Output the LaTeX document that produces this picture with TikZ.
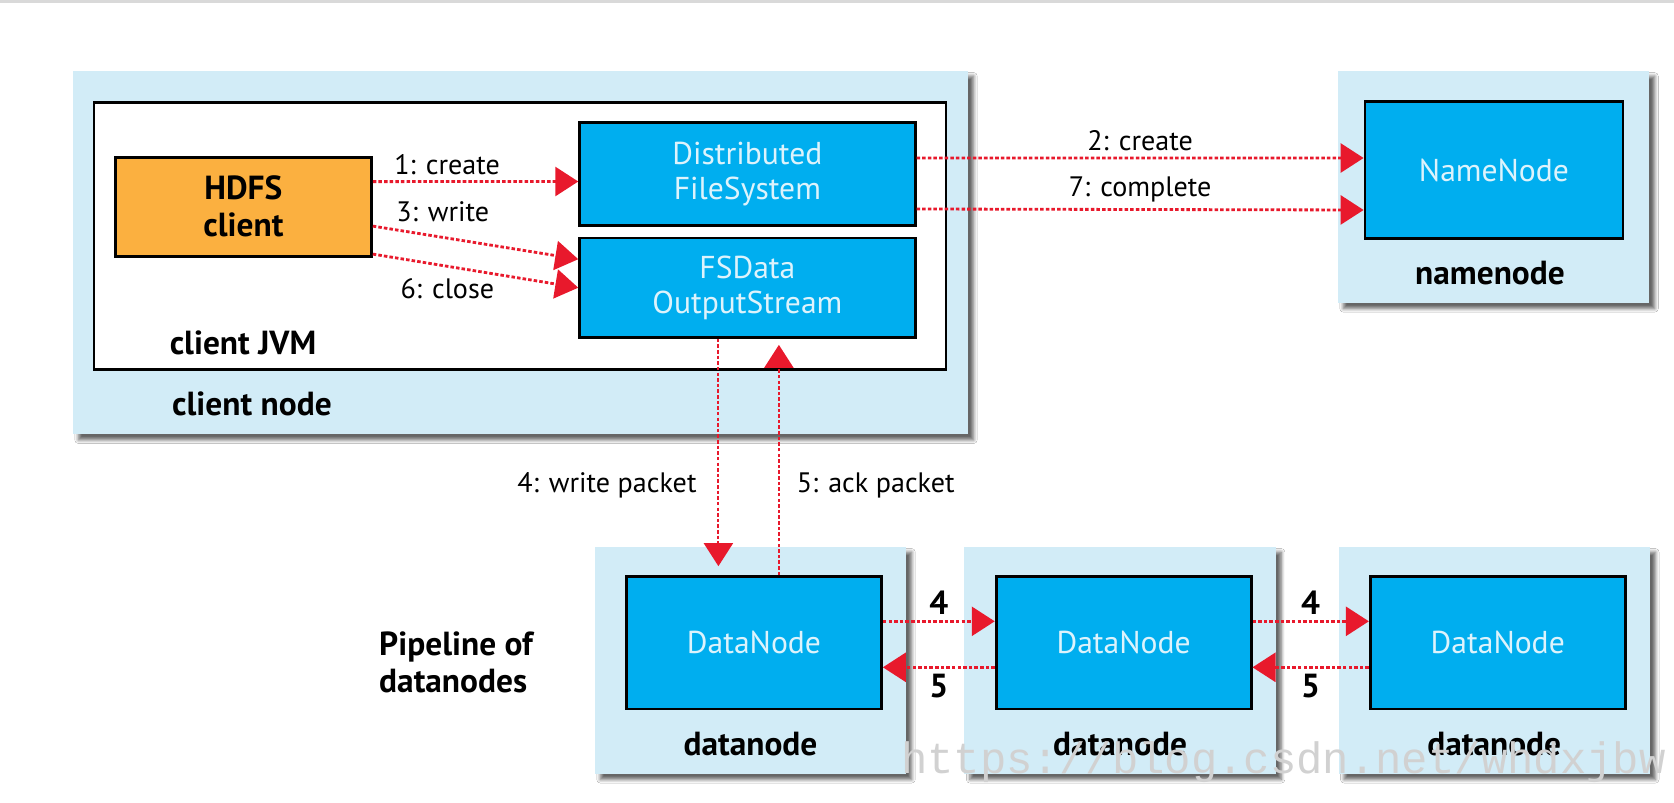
\documentclass[tikz,border=0pt]{standalone}
\usepackage{fontspec}
\setmainfont{PT Sans}
\newfontfamily\markfont{Liberation Mono}
\usetikzlibrary{arrows.meta,positioning,shadows.blur}

\definecolor{hostblue}{HTML}{D2ECF7}
\definecolor{procblue}{HTML}{00AEEF}
\definecolor{clientorange}{HTML}{FBB040}
\definecolor{msgred}{HTML}{E8192C}
\definecolor{proctext}{HTML}{DDF3FC}

\begin{document}
\begin{tikzpicture}[x=0.02cm,y=-0.02cm
	,>={Triangle[length=0.46cm,width=0.58cm]}
	,font=\fontsize{16}{19}\selectfont
	,inner sep=0.333em]
  \tikzstyle{host}=[fill=hostblue,blur shadow={shadow xshift=1.1mm,shadow yshift=-1.1mm,shadow blur steps=6,shadow opacity=60}]
  \tikzstyle{proc}=[draw=black,line width=1.6pt,fill=procblue,text=proctext,align=center,font=\fontsize{18}{20}\selectfont]
  \tikzstyle{lbl}=[font=\bfseries\fontsize{19}{21}\selectfont]
  \tikzstyle{msg}=[->,color=msgred,dash pattern=on 2pt off 1.2pt,line width=1.6pt]

  \fill[white] (0,0) rectangle (1674,802);
  \useasboundingbox (0,0) rectangle (1674,802);
  \fill[black!15] (0,0) rectangle (1674,3);

  % client node
  \node[host,minimum width=17.91cm,minimum height=7.28cm] (cnode) at (520.5,252.5) {};
  \node[draw=black,line width=1.6pt,fill=white,minimum width=17.04cm,minimum height=5.34cm] (jvm) at (520,236) {};
  \node[draw=black,line width=1.6pt,fill=clientorange,lbl,align=center
	,minimum width=5.12cm,minimum height=1.98cm] (hdfs) at (243.4,206.6) {HDFS\\client};
  \node[proc,minimum width=6.71cm,minimum height=2.05cm] (dfs) at (747.4,174) {Distributed\\FileSystem};
  \node[proc,minimum width=6.71cm,minimum height=1.99cm] (fsd) at (747.4,287.7) {FSData\\OutputStream};
  \node[lbl] (jvmlbl) at (243,342.7) {client JVM};
  \node[lbl] (cnodelbl) at (252,403.5) {client node};

  % namenode
  \node[host,minimum width=6.23cm,minimum height=4.65cm] (nnhost) at (1493.5,186.9) {};
  \node[proc,minimum width=5.16cm,minimum height=2.73cm] (nn) at (1494,170) {NameNode};
  \node[lbl] (nnlbl) at (1490,273.3) {namenode};

  % datanodes
  \node[host,minimum width=6.23cm,minimum height=4.55cm] (dnh1) at (750.5,660.3) {};
  \node[host,minimum width=6.23cm,minimum height=4.55cm,right=1.15cm of dnh1] (dnh2) {};
  \node[host,minimum width=6.23cm,minimum height=4.55cm,right=1.24cm of dnh2] (dnh3) {};
  \foreach \i in {1,2,3}{
    \node[proc,minimum width=5.1cm,minimum height=2.65cm] (dn\i) at ([xshift=0.07cm,yshift=0.35cm]dnh\i.center) {DataNode};
    \node[lbl] (dnlbl\i) at ([yshift=0.6cm]dnh\i.south) {datanode};
  }
  \node[lbl,align=left,anchor=west] (pipe) at (373,662) {Pipeline of\\datanodes};

  \path[msg]
	([yshift=0.5cm]hdfs.east) edge node[pos=0.07,anchor=south west,text=black] {1: create} ([yshift=-0.15cm]dfs.west)
	([yshift=-0.39cm]hdfs.east) edge node[pos=0.08,anchor=south west,text=black] {3: write} ([yshift=0.57cm]fsd.west)
	([yshift=-0.95cm]hdfs.east) edge node[pos=0.1,anchor=north west,yshift=-0.27cm,text=black] {6: close} (fsd.west)
	([yshift=0.32cm]dfs.east) edge node[above,text=black] {2: create} ([yshift=0.24cm]nn.west)
	([yshift=-0.70cm]dfs.east) edge node[above,text=black] {7: complete} ([yshift=-0.8cm]nn.west);

  \coordinate (wp) at ([xshift=-0.58cm]fsd.south);
  \coordinate (ap) at ([xshift=0.63cm]fsd.south);
  \path[msg,line width=1.2pt]
	(wp) edge[shorten >=0.18cm] node[left=0.3cm,pos=0.62,text=black] {4: write packet} (wp |- dn1.north)
	(ap |- dn1.north) edge[shorten >=0.12cm] node[right=0.22cm,pos=0.38,text=black] {5: ack packet} (ap);

  \foreach \a/\b in {dn1/dn2,dn2/dn3}{
    \path[msg]
	([yshift=0.43cm]\a.east) edge node[lbl,above,text=black] {4} ([yshift=0.43cm]\b.west)
	([yshift=-0.49cm]\b.west) edge node[lbl,below,text=black] {5} ([yshift=-0.49cm]\a.east);
  }

  \node[text=black!18,font=\markfont\fontsize{25}{25}\selectfont,anchor=base west] (mark) at (895,773) {https://blog.csdn.net/whdxjbw};
\end{tikzpicture}
\end{document}
